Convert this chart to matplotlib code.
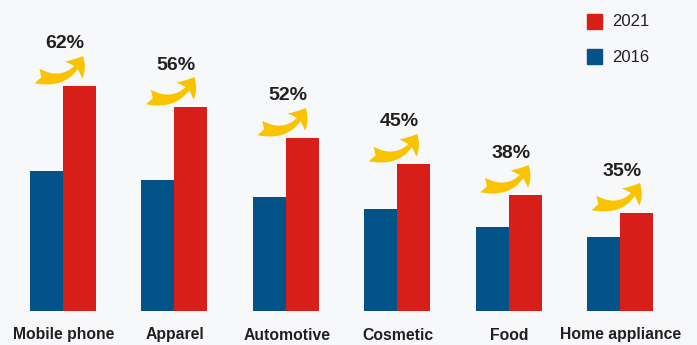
import matplotlib

matplotlib.use("Agg")
import matplotlib.pyplot as plt
from matplotlib.patches import FancyArrowPatch, Rectangle

categories = ["Mobile phone", "Apparel", "Automotive", "Cosmetic", "Food", "Home appliance"]
values_2016 = [140, 131, 114, 102, 84, 74]
values_2021 = [225, 204, 173, 147, 116, 98]
growth_labels = ["62%", "56%", "52%", "45%", "38%", "35%"]

BLUE = "#035388"
RED = "#d81e19"
YELLOW = "#f9c300"
BG = "#f7f8fa"
TEXT = "#231f20"

W, H = 697, 345
fig = plt.figure(figsize=(W / 100, H / 100), dpi=100, facecolor=BG)
# baseline sits 34 px above the bottom edge; one y unit = one pixel
ax = fig.add_axes([0, 34 / H, 1, 311 / H])
ax.set_facecolor(BG)

step = 111.4  # px between groups
bw = 33 / step
xs = list(range(len(categories)))
ax.bar([x - bw / 2 for x in xs], values_2016, width=bw, color=BLUE)
ax.bar([x + bw / 2 for x in xs], values_2021, width=bw, color=RED)

for x, top, lab in zip(xs, values_2021, growth_labels):
    ax.text(x + 2 / step, top + 42, lab, ha="center", va="center",
            fontsize=14, fontweight="bold", color=TEXT, family="Liberation Sans")
    arrow = FancyArrowPatch(
        (x - 26 / step, top + 10), (x + 20 / step, top + 30),
        connectionstyle="arc3,rad=0.45",
        arrowstyle="fancy,head_length=0.55,head_width=0.8,tail_width=0.5",
        mutation_scale=22, color=YELLOW, linewidth=0, shrinkA=0, shrinkB=0,
    )
    ax.add_patch(arrow)

ax.set_xlim(-63 / step, (W - 63) / step)
ax.set_ylim(0, 311)
ax.axis("off")

for x, cat in zip(xs, categories):
    fig.text((64 + x * step) / W, 10 / H, cat, ha="center", va="center",
             fontsize=11.3, fontweight="bold", color=TEXT, family="Liberation Sans")

# legend
for y_top, color, lab in [(14, RED, "2021"), (49, BLUE, "2016")]:
    fig.patches.append(Rectangle((587 / W, 1 - (y_top + 15) / H), 15 / W, 15 / H,
                                 transform=fig.transFigure, color=color))
    fig.text(612 / W, 1 - (y_top + 8) / H, lab, ha="left", va="center",
             fontsize=12, color=TEXT, family="Liberation Sans")

fig.savefig("out.png", dpi=100, facecolor=BG)
